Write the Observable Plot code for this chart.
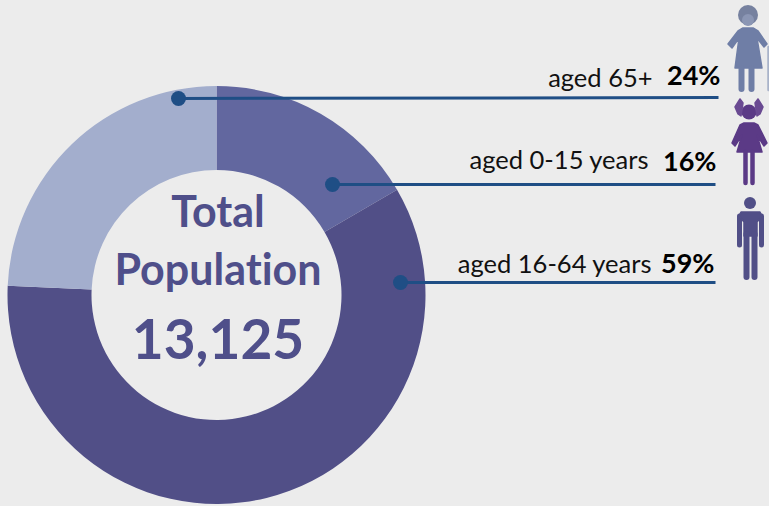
<!DOCTYPE html>
<html>
<head>
<meta charset="utf-8">
<script src="https://cdn.jsdelivr.net/npm/d3@7"></script>
<script src="https://cdn.jsdelivr.net/npm/@observablehq/plot@0.6"></script>
<style>
html,body{margin:0;padding:0;background:#ececec;overflow:hidden}
svg{display:block}
svg text{font-variant-ligatures:none;font-feature-settings:"liga" 0}
</style>
</head>
<body>
<div id="chart"></div>
<script>
// data
const groups = ["aged 0-15 years", "aged 16-64 years", "aged 65+"];
const shares = [16.6, 59.1, 24.3];          // slice sizes read from the ring
const pctLabels = ["16%", "59%", "24%"];
const totalLabel = ["Total", "Population", "13,125"];

// styles and layout
const sliceColors = ["#62679f", "#514f87", "#a3aecd"];
const ink = "#4f4f8a", leader = "#1f4e85", bg = "#ececec";
const font = "Lato, 'Open Sans', sans-serif";
const cx = 216.5, cy = 295, R = 209, r = 125;
const leaderStart = [[332, 184], [400, 282], [178, 98]];
const leaderEnd = [[715, 184], [715, 282], [718, 97]];
const labelAt = [[648, 168], [651, 272], [652, 86]];
const pctAt = [[716, 170], [714, 272], [720, 84]];
const rows = groups.map((g, i) => ({g, share: shares[i], pct: pctLabels[i], i}));
const center = [{t: totalLabel[0], y: 226, s: 43}, {t: totalLabel[1], y: 284, s: 43}, {t: totalLabel[2], y: 358, s: 55}];

const donut = (index, {x, y}) => {
  const arcs = d3.pie().sort(null).value(d => d.share)(rows);
  const arc = d3.arc().innerRadius(y(cy + r) - y(cy)).outerRadius(y(cy + R) - y(cy));
  const g = d3.create("svg:g").attr("transform", `translate(${x(cx)},${y(cy)})`);
  g.selectAll("path").data(arcs).join("path")
    .attr("d", arc).attr("fill", (d, i) => sliceColors[i]);
  return g.node();
};

const icons = (index, {x, y}) => {
  const g = d3.create("svg:g");
  const P = (pts, fill) => g.append("path").attr("d", "M" + pts.map(([a, b]) => [x(a), y(b)].join(",")).join("L") + "Z")
    .attr("fill", fill).attr("stroke", fill).attr("stroke-linejoin", "round").attr("stroke-width", 1.5);
  const L = (pts, color, w) => g.append("path").attr("d", "M" + pts.map(([a, b]) => [x(a), y(b)].join(",")).join("L"))
    .attr("fill", "none").attr("stroke", color).attr("stroke-width", w).attr("stroke-linecap", "round").attr("stroke-linejoin", "round");
  const C = (a, b, rad, fill) => g.append("circle").attr("cx", x(a)).attr("cy", y(b)).attr("r", rad).attr("fill", fill);
  // older woman
  const w = "#6f7ea6";
  C(748, 15, 10, "#76819f");
  C(748, 20, 6, "#8b96b4");
  P([[743, 28], [753, 28], [758, 31], [767, 44], [764, 47], [757, 38], [762, 68], [735, 68], [739, 38], [732, 48], [728, 44], [738, 31]], w);
  L([[741.5, 68], [741.5, 89]], w, 6);
  L([[751.5, 68], [751.5, 89]], w, 6);
  L([[768.5, 47], [768.5, 90]], "#a9b3c9", 2.5);
  // girl
  const p = "#5b3a86";
  C(749, 112, 7.5, p);
  P([[740, 99], [743, 103], [741, 116], [738, 114], [735, 107]], "#6a4a92");
  P([[758, 99], [755, 103], [757, 116], [760, 114], [763, 107]], "#6a4a92");
  P([[744, 123], [754, 123], [758, 125], [767, 143], [764, 146], [757, 135], [762, 152], [737, 152], [742, 135], [735, 146], [732, 143], [740, 125]], p);
  L([[745.5, 152], [745.5, 183]], p, 4.5);
  L([[752.5, 152], [752.5, 183]], p, 4.5);
  // man
  const m = "#514f87";
  C(750, 203, 6, m);
  L([[739.5, 216], [739.5, 245]], m, 5);
  L([[761.5, 216], [761.5, 245]], m, 5);
  P([[741, 212], [760, 212], [762, 216], [757, 222], [757, 236], [744, 236], [744, 222], [739, 216]], m);
  L([[746.5, 234], [746.5, 277]], m, 6);
  L([[754.5, 234], [754.5, 277]], m, 6);
  return g.node();
};

const plot = Plot.plot({
  width: 769, height: 506,
  margin: 0,
  style: {background: bg},
  x: {domain: [0, 769], range: [0, 769], axis: null},
  y: {domain: [0, 506], range: [0, 506], axis: null},
  marks: [
    donut,
    Plot.link(rows, {
      x1: d => leaderStart[d.i][0], y1: d => leaderStart[d.i][1],
      x2: d => leaderEnd[d.i][0], y2: d => leaderEnd[d.i][1],
      stroke: leader, strokeWidth: 3
    }),
    Plot.dot(rows, {x: d => leaderStart[d.i][0], y: d => leaderStart[d.i][1], r: 7.5, fill: leader}),
    Plot.text(rows, {
      x: d => labelAt[d.i][0], y: d => labelAt[d.i][1], text: "g",
      textAnchor: "end", lineAnchor: "bottom", fontFamily: font, fontSize: 25.5, fill: "#111"
    }),
    Plot.text(rows, {
      x: d => pctAt[d.i][0], y: d => pctAt[d.i][1], text: "pct",
      textAnchor: "end", lineAnchor: "bottom", fontFamily: font, fontWeight: 700, fontSize: 27, fill: "#000"
    }),
    Plot.text(center, {
      x: () => 217.5, y: "y", text: "t",
      textAnchor: "middle", lineAnchor: "bottom", fontFamily: font, fontWeight: 700,
      fontSize: d => d.s, fill: ink
    }),
    icons
  ]
});
document.getElementById("chart").append(plot);
</script>
</body>
</html>
